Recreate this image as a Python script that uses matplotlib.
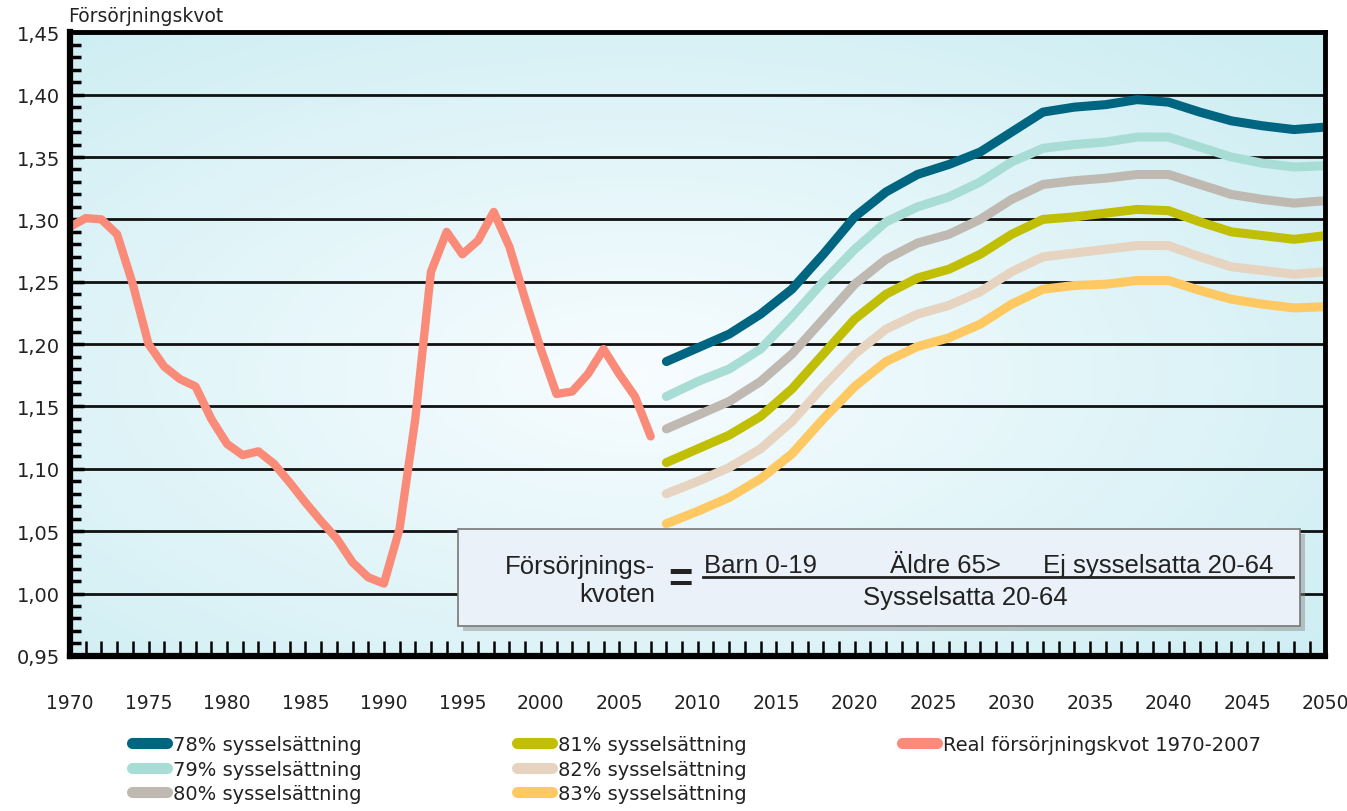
import numpy as np
import matplotlib
matplotlib.use("Agg")
import matplotlib.pyplot as plt
import matplotlib.transforms as mtransforms
from matplotlib.lines import Line2D
from matplotlib.patches import Rectangle

# Real dependency ratio 1970-2007
real_years = list(range(1970, 2008))
real_vals = [1.294, 1.301, 1.300, 1.288, 1.248, 1.200, 1.182, 1.172, 1.166, 1.140,
             1.120, 1.111, 1.114, 1.104, 1.089, 1.073, 1.058, 1.044, 1.025, 1.013,
             1.008, 1.052, 1.140, 1.258, 1.290, 1.272, 1.283, 1.306, 1.278, 1.236,
             1.196, 1.160, 1.162, 1.176, 1.196, 1.176, 1.158, 1.126]

# Projections 2008-2050 (every second year)
proj_years = list(range(2008, 2051, 2))
emp78 = [1.186, 1.197, 1.208, 1.224, 1.244, 1.272, 1.302, 1.322, 1.336, 1.344, 1.354,
         1.370, 1.386, 1.390, 1.392, 1.396, 1.394, 1.386, 1.379, 1.375, 1.372, 1.374]
emp79 = [1.158, 1.170, 1.180, 1.196, 1.222, 1.250, 1.276, 1.298, 1.310, 1.318, 1.330,
         1.346, 1.357, 1.360, 1.362, 1.366, 1.366, 1.358, 1.350, 1.345, 1.342, 1.343]
emp80 = [1.132, 1.143, 1.154, 1.170, 1.192, 1.220, 1.248, 1.268, 1.281, 1.288, 1.300,
         1.316, 1.328, 1.331, 1.333, 1.336, 1.336, 1.328, 1.320, 1.316, 1.313, 1.315]
emp81 = [1.105, 1.116, 1.127, 1.142, 1.164, 1.192, 1.220, 1.240, 1.253, 1.260, 1.272,
         1.288, 1.300, 1.302, 1.305, 1.308, 1.307, 1.298, 1.290, 1.287, 1.284, 1.287]
emp82 = [1.080, 1.090, 1.101, 1.116, 1.138, 1.166, 1.192, 1.212, 1.224, 1.231, 1.242,
         1.258, 1.270, 1.273, 1.276, 1.279, 1.279, 1.270, 1.262, 1.259, 1.256, 1.258]
emp83 = [1.056, 1.066, 1.077, 1.092, 1.112, 1.140, 1.166, 1.186, 1.198, 1.205, 1.216,
         1.232, 1.244, 1.247, 1.248, 1.251, 1.251, 1.243, 1.236, 1.232, 1.229, 1.230]

labels = ["78% sysselsättning", "79% sysselsättning", "80% sysselsättning",
          "81% sysselsättning", "82% sysselsättning", "83% sysselsättning"]
real_label = "Real försörjningskvot 1970-2007"
colors = ["#006580", "#a8ddd5", "#bfb9b1", "#c0bf05", "#e6d4c1", "#fec962"]
real_color = "#f98b78"

y_ticks = [0.95, 1.00, 1.05, 1.10, 1.15, 1.20, 1.25, 1.30, 1.35, 1.40, 1.45]
x_label_years = list(range(1970, 2051, 5))

fig = plt.figure(figsize=(13.47, 8.12), dpi=100)
ax = fig.add_axes([0.052, 0.191, 0.932, 0.768])

# background gradient
gx, gy = np.meshgrid(np.linspace(0, 1, 300), np.linspace(0, 1, 200))
r = np.sqrt(((gx - 0.45) / 0.75) ** 2 + ((gy - 0.45) / 0.75) ** 2)
r = np.clip(r, 0, 1)
c0 = np.array([0.97, 0.99, 1.0])
c1 = np.array([0.80, 0.93, 0.95])
img = c0[None, None, :] * (1 - r[..., None]) + c1[None, None, :] * r[..., None]
ax.imshow(img, extent=[0, 1, 0, 1], transform=ax.transAxes, aspect="auto",
          origin="lower", zorder=0)

for v in y_ticks[1:-1]:
    ax.axhline(v, color="#111111", lw=2.0, zorder=1)

ax.plot(real_years, real_vals, color=real_color, lw=6, solid_capstyle="round",
        solid_joinstyle="round", zorder=3, label=real_label)
series = [emp78, emp79, emp80, emp81, emp82, emp83]
for vals, col, lab in zip(series, colors, labels):
    ax.plot(proj_years, vals, color=col, lw=6.5, solid_capstyle="round",
            solid_joinstyle="round", zorder=3, label=lab)

ax.set_xlim(1970, 2050)
ax.set_ylim(0.95, 1.45)

ax.set_xticks(range(1970, 2051))
ax.set_xticklabels([str(y) if y in x_label_years else "" for y in range(1970, 2051)],
                   fontsize=13.5, color="#222222")
# nudge first/last year labels inward like the original
shift_l = mtransforms.ScaledTranslation(6 / 100, 0, fig.dpi_scale_trans)
shift_r = mtransforms.ScaledTranslation(-4 / 100, 0, fig.dpi_scale_trans)
xt = ax.get_xticklabels()
xt[0].set_transform(xt[0].get_transform() + shift_l)
xt[-1].set_transform(xt[-1].get_transform() + shift_r)

ax.set_yticks(y_ticks)
ax.set_yticklabels([f"{v:.2f}".replace(".", ",") for v in y_ticks], fontsize=14,
                   color="#222222")
ax.set_yticks(np.arange(0.95, 1.4501, 0.01), minor=True)
ax.tick_params(axis="x", direction="in", length=11, width=1.8, pad=27, color="black")
ax.tick_params(axis="y", which="major", direction="in", length=10, width=2.5, pad=7)
ax.tick_params(axis="y", which="minor", direction="in", length=8, width=2.5)

for side in ["left", "bottom"]:
    ax.spines[side].set_linewidth(4.5)
for side in ["top", "right"]:
    ax.spines[side].set_linewidth(3.5)
for s in ax.spines.values():
    s.set_zorder(6)

fig.text(0.0505, 0.968, "Försörjningskvot", fontsize=13.5, color="#222222",
         ha="left", va="bottom")

# formula box
shadow = Rectangle((0.344, 0.222), 0.625, 0.119, transform=fig.transFigure,
                   facecolor="#888888", alpha=0.45, edgecolor="none", zorder=7)
box = Rectangle((0.340, 0.228), 0.625, 0.119, transform=fig.transFigure,
                facecolor="#eaf1f8", edgecolor="#777777", lw=1.2, zorder=8)
fig.add_artist(shadow)
fig.add_artist(box)
ffont = dict(family="Liberation Sans", fontsize=18.5, color="#222222", zorder=9)
fig.text(0.486, 0.302, "Försörjnings-", ha="right", va="center", **ffont)
fig.text(0.486, 0.267, "kvoten", ha="right", va="center", **ffont)
fig.text(0.505, 0.285, "=", ha="center", va="center", family="Liberation Sans",
         fontsize=30, fontweight="bold", color="#222222", zorder=9)
fig.text(0.523, 0.303, "Barn 0-19", ha="left", va="center", **ffont)
fig.text(0.661, 0.303, "Äldre 65>", ha="left", va="center", **ffont)
fig.text(0.774, 0.303, "Ej sysselsatta 20-64", ha="left", va="center", **ffont)
fig.add_artist(Line2D([0.522, 0.960], [0.288, 0.288], transform=fig.transFigure,
                      color="#222222", lw=2, zorder=9))
fig.text(0.717, 0.264, "Sysselsatta 20-64", ha="center", va="center", **ffont)

# legends
real_handle = Line2D([], [], color=real_color, lw=8, solid_capstyle="round")
leg_kw = dict(frameon=False, fontsize=14, handlelength=1.8, handletextpad=0.3,
              labelspacing=0.28, borderaxespad=0)
lh = [Line2D([], [], color=c, lw=8, solid_capstyle="round") for c in colors]
l1 = fig.legend(lh[:3], labels[:3], loc="upper left", bbox_to_anchor=(0.092, 0.103), **leg_kw)
l2 = fig.legend(lh[3:], labels[3:], loc="upper left", bbox_to_anchor=(0.378, 0.103), **leg_kw)
l3 = fig.legend([real_handle], [real_label], loc="upper left",
                bbox_to_anchor=(0.664, 0.103), **leg_kw)
for lg in (l1, l2, l3):
    for t in lg.get_texts():
        t.set_color("#222222")

fig.savefig("out.png", dpi=100, facecolor="white")
